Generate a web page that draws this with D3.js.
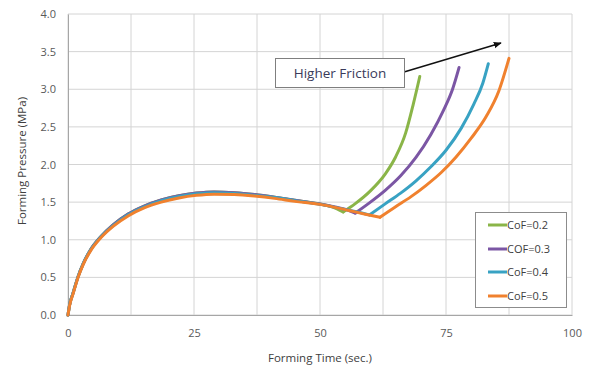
<!DOCTYPE html>
<html>
<head>
<meta charset="utf-8">
<script src="https://cdn.jsdelivr.net/npm/d3@7/dist/d3.min.js"></script>
<style>
  html, body { margin: 0; padding: 0; background: #fff; }
  svg { display: block; }
  text { font-family: "Open Sans", "DejaVu Sans", sans-serif; }
</style>
</head>
<body>
<svg id="chart" width="592" height="369"></svg>
<script>
// ---- data ----
const seriesNames = ["CoF=0.2", "COF=0.3", "CoF=0.4", "CoF=0.5"];
const seriesColors = ["#8ab548", "#7b56a4", "#38a2c3", "#f0812e"];
const xTicks = [0, 25, 50, 75, 100];
const xGrid = [0, 12.5, 25, 37.5, 50, 62.5, 75, 87.5, 100];
const yTicks = [0, 0.5, 1.0, 1.5, 2.0, 2.5, 3.0, 3.5, 4.0];

const cof02 = [[0,0],[0.3,0.13],[1,0.29],[2,0.51],[3,0.68],[4.5,0.87],[6.5,1.04],[9,1.2],[12,1.345],[15,1.445],[18.5,1.53],[22,1.585],[25.5,1.62],[29,1.635],[33,1.625],[37,1.6],[41,1.565],[45,1.525],[50,1.475],[52.5,1.435],[54.6,1.37],[57,1.48],[60,1.65],[63,1.88],[65,2.1],[67,2.42],[68.5,2.8],[69.8,3.17]];
const cof03 = [[0,0],[0.3,0.13],[1,0.29],[2,0.51],[3,0.68],[4.5,0.87],[6.5,1.04],[9,1.2],[12,1.345],[15,1.445],[18.5,1.53],[22,1.585],[25.5,1.62],[29,1.635],[33,1.625],[37,1.6],[41,1.565],[45,1.525],[50,1.475],[53,1.435],[55.5,1.395],[57,1.355],[60,1.5],[63,1.66],[66,1.85],[69,2.09],[72,2.4],[74.5,2.72],[76.3,3.0],[77.6,3.29]];
const cof04 = [[0,0],[0.3,0.13],[1,0.29],[2,0.51],[3,0.68],[4.5,0.865],[6.5,1.035],[9,1.19],[12,1.335],[15,1.435],[18.5,1.52],[22,1.575],[25.5,1.61],[29,1.625],[33,1.615],[37,1.59],[41,1.56],[45,1.52],[50,1.47],[53,1.43],[56,1.39],[58.3,1.355],[59.8,1.33],[63,1.48],[66,1.62],[69,1.78],[72,1.97],[75,2.19],[78,2.48],[80.5,2.8],[82.3,3.08],[83.4,3.34]];
const cof05 = [[0,0],[0.3,0.12],[1,0.28],[2,0.5],[3,0.67],[4.5,0.855],[6.5,1.025],[9,1.18],[12,1.32],[15,1.42],[18.5,1.5],[22,1.555],[25.5,1.59],[29,1.605],[33,1.6],[37,1.58],[41,1.55],[45,1.51],[50,1.47],[53,1.43],[56,1.385],[59,1.34],[61.9,1.3],[65,1.44],[68,1.57],[71,1.72],[74,1.89],[77,2.1],[80,2.35],[83,2.64],[85.5,2.98],[87.5,3.41]];
const seriesData = [cof02, cof03, cof04, cof05];

const xTitle = "Forming Time (sec.)";
const yTitle = "Forming Pressure (MPa)";
const annotationText = "Higher Friction";

// ---- layout ----
const svg = d3.select("#chart");
const plot = { left: 68, right: 572, top: 14, bottom: 315 };
const x = d3.scaleLinear().domain([0, 100]).range([plot.left, plot.right]);
const y = d3.scaleLinear().domain([0, 4]).range([plot.bottom, plot.top]);

// grid
const g = svg.append("g");
g.selectAll("line.vg").data(xGrid).enter().append("line")
  .attr("x1", d => x(d)).attr("x2", d => x(d))
  .attr("y1", plot.top).attr("y2", plot.bottom)
  .attr("stroke", "#d4d4d4").attr("stroke-width", 1);
g.selectAll("line.hg").data(yTicks).enter().append("line")
  .attr("x1", plot.left).attr("x2", plot.right)
  .attr("y1", d => y(d)).attr("y2", d => y(d))
  .attr("stroke", "#d4d4d4").attr("stroke-width", 1);

// axes
const xAxis = d3.axisBottom(x).tickValues(xTicks).tickSize(0).tickPadding(14).tickFormat(d3.format("d"));
const gx = svg.append("g").attr("transform", `translate(0,${plot.bottom})`).call(xAxis);
gx.select(".domain").attr("stroke", "#a6a6a6");
gx.selectAll("text").attr("fill", "#595959").style("font-size", "11px");

const yAxis = d3.axisLeft(y).tickValues(yTicks).tickSize(0).tickPadding(12).tickFormat(d3.format(".1f"));
const gy = svg.append("g").attr("transform", `translate(${plot.left},0)`).call(yAxis);
gy.select(".domain").attr("stroke", "#a6a6a6");
gy.selectAll("text").attr("fill", "#595959").style("font-size", "11px");

// titles
svg.append("text").attr("x", 320).attr("y", 362).attr("text-anchor", "middle")
  .attr("fill", "#404040").style("font-size", "11.5px").text(xTitle);
svg.append("text").attr("transform", "translate(26,161) rotate(-90)").attr("text-anchor", "middle")
  .attr("fill", "#404040").style("font-size", "11.5px").text(yTitle);

// lines: each curve drawn as a descending and a rising branch, joined at the trough
const line = d3.line().x(d => x(d[0])).y(d => y(d[1])).curve(d3.curveMonotoneX);
seriesData.forEach((data, i) => {
  let idx = 0, minV = Infinity;
  data.forEach((d, k) => { if (d[0] > 40 && d[1] < minV) { minV = d[1]; idx = k; } });
  const parts = [data.slice(0, idx + 1), data.slice(idx)];
  const gS = svg.append("g");
  parts.forEach(p => {
    gS.append("path").datum(p)
      .attr("d", line).attr("fill", "none")
      .attr("stroke", seriesColors[i]).attr("stroke-width", 3)
      .attr("stroke-linejoin", "round").attr("stroke-linecap", "round");
  });
});

// annotation box + arrow
const defs = svg.append("defs");
defs.append("marker").attr("id", "arr").attr("viewBox", "0 0 10 10")
  .attr("refX", 9).attr("refY", 5).attr("markerWidth", 8).attr("markerHeight", 8)
  .attr("orient", "auto").attr("markerUnits", "userSpaceOnUse")
  .append("path").attr("d", "M0,1 L10,5 L0,9 Z").attr("fill", "#111");
svg.append("line").attr("x1", 404).attr("y1", 72).attr("x2", 501).attr("y2", 43)
  .attr("stroke", "#111").attr("stroke-width", 1.5).attr("marker-end", "url(#arr)");
svg.append("rect").attr("x", 275.5).attr("y", 58.5).attr("width", 129).attr("height", 29)
  .attr("fill", "#fff").attr("stroke", "#7f7f7f").attr("stroke-width", 1);
svg.append("text").attr("x", 340).attr("y", 78).attr("text-anchor", "middle")
  .attr("fill", "#3a3a5a").style("font-size", "13.5px").text(annotationText);

// legend
const lg = svg.append("g");
lg.append("rect").attr("x", 475.5).attr("y", 212.5).attr("width", 91).attr("height", 95)
  .attr("fill", "#fff").attr("stroke", "#8c8c8c").attr("stroke-width", 1);
const legY = [225, 249, 272, 296];
seriesNames.forEach((name, i) => {
  lg.append("line").attr("x1", 488).attr("x2", 507).attr("y1", legY[i]).attr("y2", legY[i])
    .attr("stroke", seriesColors[i]).attr("stroke-width", 3);
  lg.append("text").attr("x", 507).attr("y", legY[i] + 4)
    .attr("fill", "#404040").style("font-size", "11px").text(name);
});
</script>
</body>
</html>
